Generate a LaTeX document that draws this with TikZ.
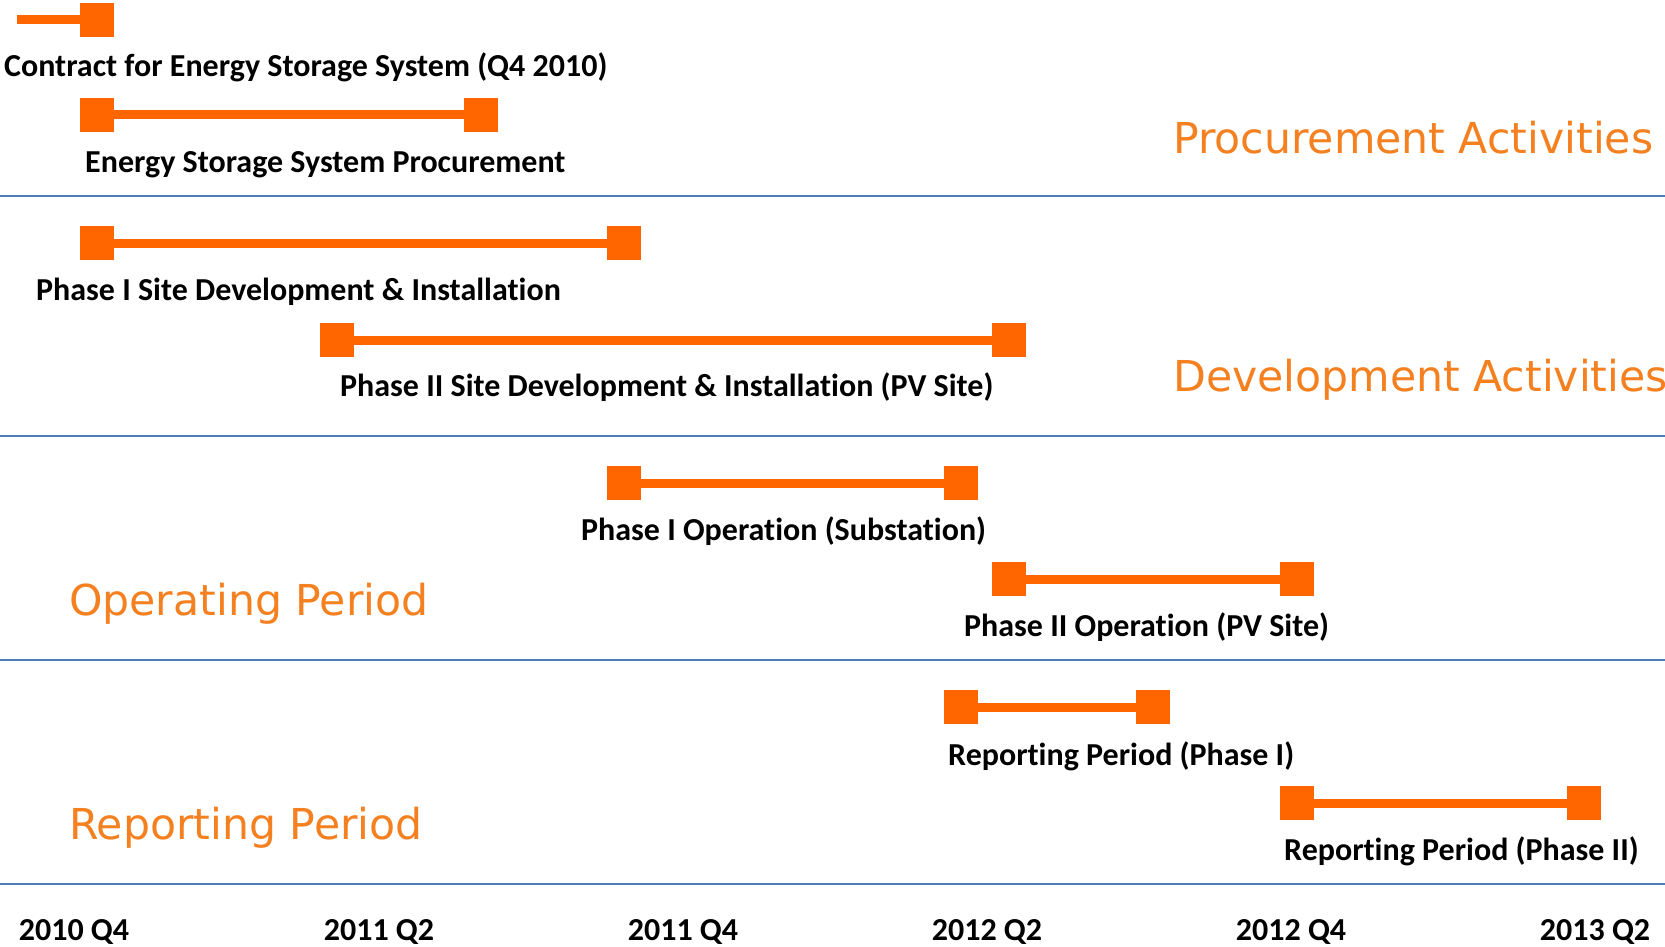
\documentclass[tikz,border=0pt]{standalone}
\usepackage{fontspec}
\setmainfont{Carlito}[Ligatures={NoCommon}]
\newfontfamily\catfont{DejaVu Sans}
\definecolor{barorange}{RGB}{255,102,0}
\definecolor{catorange}{RGB}{245,128,32}
\definecolor{divblue}{RGB}{74,126,187}
\begin{document}
\begin{tikzpicture}[x=1pt,y=-1pt,
  endsq/.style={fill=barorange,draw=none,minimum width=34pt,minimum height=34pt,inner sep=0pt,outer sep=0pt},
  barline/.style={draw=barorange,line width=9pt},
  barlbl/.style={anchor=west,inner sep=0pt,font=\fontsize{32}{34}\selectfont\bfseries},
  cat/.style={anchor=west,inner sep=0pt,text=catorange,font=\catfont\fontsize{42.6}{46}\selectfont},
  axislbl/.style={anchor=center,inner sep=0pt,font=\fontsize{32}{34}\selectfont\bfseries},
  divider/.style={draw=divblue,line width=2pt}]
\useasboundingbox (0,0) rectangle (1665,947);

% dividers
\coordinate (d1l) at (0,196); \coordinate (d1r) at (1665,196);
\coordinate (d2l) at (0,436); \coordinate (d2r) at (1665,436);
\coordinate (d3l) at (0,660); \coordinate (d3r) at (1665,660);
\coordinate (d4l) at (0,884); \coordinate (d4r) at (1665,884);
\draw[divider] (d1l) -- (d1r);
\draw[divider] (d2l) -- (d2r);
\draw[divider] (d3l) -- (d3r);
\draw[divider] (d4l) -- (d4r);

% contract
\coordinate (c0) at (17,20);
\node[endsq] (c1) at (97,20) {};
\draw[barline] (c0) -- (c1);
\node[barlbl] (tc) at (4,67) {Contract for Energy Storage System (Q4 2010)};

% ESS procurement
\node[endsq] (p1) at (97,115) {};
\node[endsq] (p2) at (481,115) {};
\draw[barline] (p1) -- (p2);
\node[barlbl] (tp) at (85,165) {Energy Storage System Procurement};

% Phase I site dev
\node[endsq] (s1) at (97,243) {};
\node[endsq] (s2) at (624,243) {};
\draw[barline] (s1) -- (s2);
\node[barlbl] (ts) at (36,292) {Phase I Site Development \& Installation};

% Phase II site dev
\node[endsq] (t1) at (337,340) {};
\node[endsq] (t2) at (1009,340) {};
\draw[barline] (t1) -- (t2);
\node[barlbl] (tt) at (340,387) {Phase II Site Development \& Installation (PV Site)};

% Phase I operation
\node[endsq] (o1) at (624,483) {};
\node[endsq] (o2) at (961,483) {};
\draw[barline] (o1) -- (o2);
\node[barlbl] (to) at (581,531) {Phase I Operation (Substation)};

% Phase II operation
\node[endsq] (q1) at (1009,579) {};
\node[endsq] (q2) at (1297,579) {};
\draw[barline] (q1) -- (q2);
\node[barlbl] (tq) at (964,627) {Phase II Operation (PV Site)};

% Reporting I
\node[endsq] (r1) at (961,707) {};
\node[endsq] (r2) at (1153,707) {};
\draw[barline] (r1) -- (r2);
\node[barlbl] (tr) at (948,756) {Reporting Period (Phase I)};

% Reporting II
\node[endsq] (u1) at (1297,803) {};
\node[endsq] (u2) at (1584,803) {};
\draw[barline] (u1) -- (u2);
\node[barlbl] (tu) at (1284,851) {Reporting Period (Phase II)};

% categories
\node[cat] (cp) at (1173,138) {Procurement Activities};
\node[cat] (cd) at (1173,380) {Development Activities};
\node[cat] (co) at (69,604) {Operating Period};
\node[cat] (cr) at (69,828) {Reporting Period};

% axis
\node[axislbl] (a1) at (74,932) {2010 Q4};
\node[axislbl] (a2) at (379,932) {2011 Q2};
\node[axislbl] (a3) at (683,932) {2011 Q4};
\node[axislbl] (a4) at (987,932) {2012 Q2};
\node[axislbl] (a5) at (1291,932) {2012 Q4};
\node[axislbl] (a6) at (1595,932) {2013 Q2};
\end{tikzpicture}
\end{document}
